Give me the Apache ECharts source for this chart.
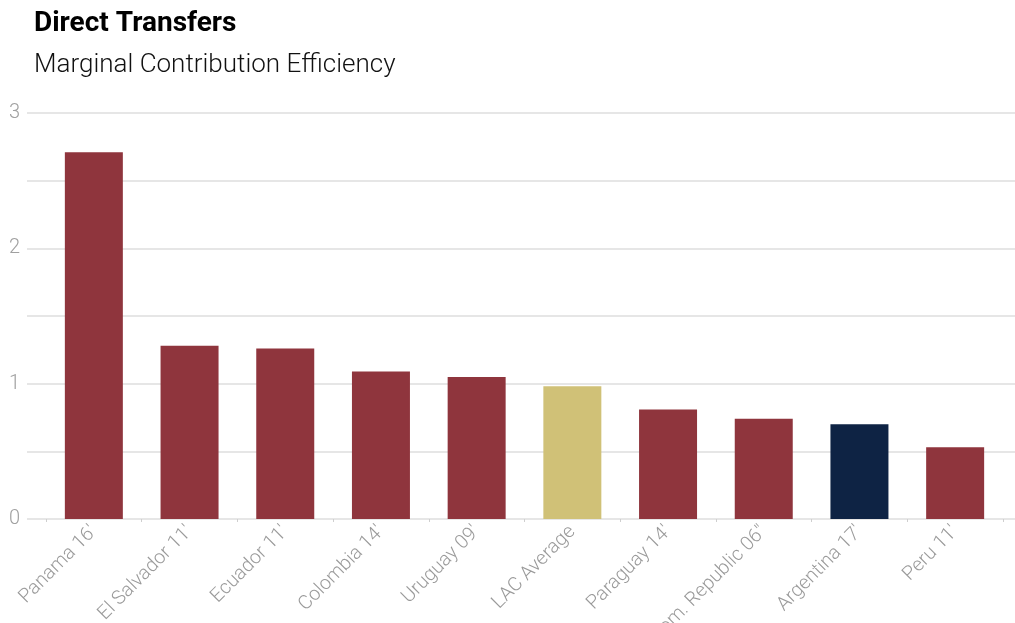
<!DOCTYPE html>
<html>
<head>
<meta charset="utf-8">
<script src="https://cdn.jsdelivr.net/npm/echarts@6/dist/echarts.min.js"></script>
<style>
html,body{margin:0;padding:0;background:#fff;}
#c{width:1015px;height:623px;}
</style>
</head>
<body>
<div id="c"></div>
<script>
const categories = ["Panama 16'", "El Salvador 11'", "Ecuador 11'", "Colombia 14'", "Uruguay 09'", "LAC Average", "Paraguay 14'", "Dom. Republic 06\"", "Argentina 17'", "Peru 11'"];
const values = [2.71, 1.28, 1.26, 1.09, 1.05, 0.98, 0.81, 0.74, 0.70, 0.53];
const barColors = ["#8f353d", "#8f353d", "#8f353d", "#8f353d", "#8f353d", "#d0c177", "#8f353d", "#8f353d", "#0e2344", "#8f353d"];
const yMin = 0, yMax = 3, yStep = 0.5;

const chart = echarts.init(document.getElementById('c'), null, {renderer: 'canvas'});
const font = 'Roboto, "Noto Sans", sans-serif';
chart.setOption({
  animation: false,
  backgroundColor: '#ffffff',
  title: [
    {text: 'Direct Transfers', left: 29, top: 5,
     textStyle: {fontFamily: font, fontWeight: 'bold', fontSize: 28, color: '#000'}},
    {text: 'Marginal Contribution Efficiency', left: 29, top: 47,
     textStyle: {fontFamily: font, fontWeight: 300, fontSize: 26, color: '#111'}}
  ],
  grid: [
    {left: 27, right: 0, top: 113, bottom: 104, outerBoundsMode: 'none'},
    {left: 46, right: 12, top: 113, bottom: 104, outerBoundsMode: 'none'}
  ],
  xAxis: [
    {gridIndex: 0, type: 'value', show: false, min: 0, max: 1},
    {gridIndex: 1, type: 'category', data: categories,
     axisLine: {show: false},
     axisTick: {show: true, length: 3, lineStyle: {color: '#cfcfcf'}},
     axisLabel: {rotate: 45, margin: 10, fontFamily: font, fontWeight: 300, fontSize: 19.5, color: '#9a9a9a', interval: 0}}
  ],
  yAxis: [
    {gridIndex: 0, type: 'value', min: yMin, max: yMax, interval: yStep,
     axisLine: {show: false}, axisTick: {show: false},
     axisLabel: {margin: 7, fontFamily: font, fontWeight: 300, fontSize: 20, color: '#a0a0a0',
       formatter: v => (Math.abs(v - Math.round(v)) < 1e-9 ? String(Math.round(v)) : '')},
     splitLine: {show: true, lineStyle: {color: '#e6e6e6', width: 2}}},
    {gridIndex: 1, type: 'value', min: yMin, max: yMax, show: false, splitLine: {show: false}}
  ],
  series: [{
    type: 'bar', xAxisIndex: 1, yAxisIndex: 1,
    barWidth: '60.6%',
    data: values.map((v, i) => ({value: v, itemStyle: {color: barColors[i]}}))
  }]
});
</script>
</body>
</html>
